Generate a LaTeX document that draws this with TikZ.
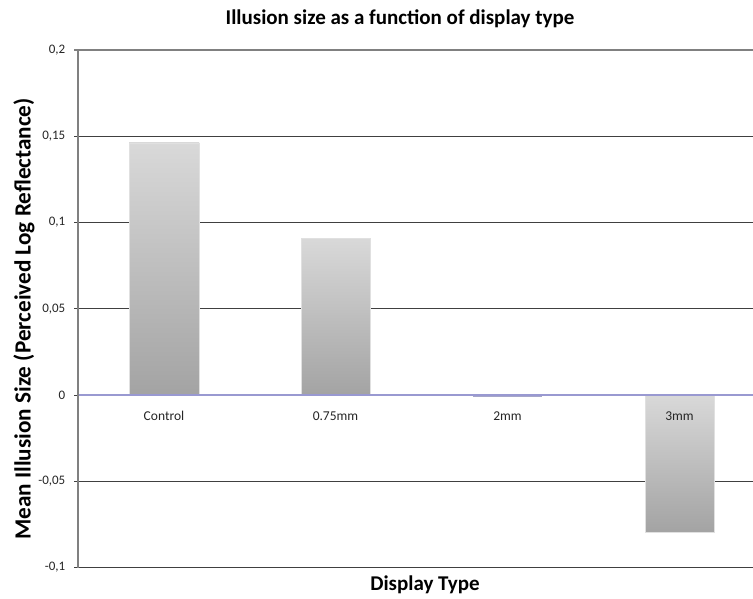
\documentclass[tikz,border=0pt]{standalone}
\usepackage{fontspec}
\setmainfont{Carlito}
\begin{document}
\begin{tikzpicture}[x=1pt,y=-1pt,
  grid/.style={draw=black!75,line width=0.9pt},
  frame/.style={draw=black!50,line width=1.4pt},
  zero/.style={draw=blue!55!black!40!white,line width=1.3pt},
  ticklbl/.style={anchor=east,font=\fontsize{13}{14}\selectfont,text=black!85,inner sep=0pt},
  catlbl/.style={anchor=center,font=\fontsize{13.5}{14}\selectfont,text=black!85,inner sep=0pt},
  bar/.style={top color=black!15,bottom color=black!36,draw=black!12,line width=0.6pt},
  axtitle/.style={font=\bfseries\fontsize{21}{22}\selectfont,inner sep=0pt}]
\useasboundingbox (0,0) rectangle (753,599);
\fill[white] (0,0) rectangle (753,599);

% horizontal grid lines and tick marks (y = 395 - 1725 v)
\foreach \yy in {136.25,222.5,308.75,481.25}
  \draw[grid] (74,\yy) -- (753,\yy);
\draw[frame] (74,50) -- (753,50);
\draw[grid] (74,567.5) -- (753,567.5);
\draw[grid] (74,395) -- (78,395);

% bars
\shade[bar] (129,143) rectangle (199,395);
\shade[bar] (301,238) rectangle (370,395);
\fill[blue!40!black!35!white] (473,393.5) rectangle (542,396.5);
\shade[bar] (645,395) rectangle (714,532);

% zero line
\draw[zero] (78,395) -- (753,395);

% value axis
\draw[frame] (78,49.3) -- (78,568);

% tick labels
\node[ticklbl] (t1) at (65.5,50) {0,2};
\node[ticklbl] (t2) at (65.5,136.25) {0,15};
\node[ticklbl] (t3) at (65.5,222.5) {0,1};
\node[ticklbl] (t4) at (65.5,308.75) {0,05};
\node[ticklbl] (t5) at (65.5,395) {0};
\node[ticklbl] (t6) at (65.5,481.25) {-0,05};
\node[ticklbl] (t7) at (65.5,567.5) {-0,1};

% category labels
\node[catlbl] (c1) at (164,416) {Control};
\node[catlbl] (c2) at (335.5,416) {0.75mm};
\node[catlbl] (c3) at (507.5,416) {2mm};
\node[catlbl] (c4) at (679.5,416) {3mm};

% titles
\node[axtitle] (title) at (400,19) {Illusion size as a function of display type};
\node[axtitle] (xlab) at (425,585) {Display Type};
\node[axtitle,font=\bfseries\fontsize{23.2}{24}\selectfont,rotate=90] (ylab) at (24,319) {Mean Illusion Size (Perceived Log Reflectance)};
\end{tikzpicture}
\end{document}
